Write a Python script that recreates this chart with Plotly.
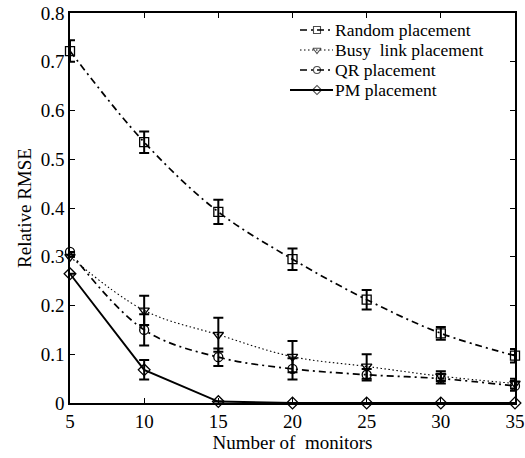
import plotly.graph_objects as go

x = [5, 10, 15, 20, 25, 30, 35]
random_y = [0.722, 0.535, 0.392, 0.295, 0.212, 0.143, 0.097]
random_err = [0.022, 0.022, 0.025, 0.022, 0.020, 0.013, 0.014]
busy_y = [0.300, 0.190, 0.140, 0.095, 0.075, 0.055, 0.040]
busy_err = [0.000, 0.030, 0.035, 0.032, 0.025, 0.010, 0.010]
qr_y = [0.310, 0.150, 0.094, 0.070, 0.058, 0.050, 0.035]
qr_err = [0.000, 0.032, 0.018, 0.022, 0.012, 0.010, 0.010]
pm_y = [0.265, 0.068, 0.003, 0.0, 0.0, 0.0, 0.0]
pm_err = [0.000, 0.020, 0.000, 0.000, 0.000, 0.000, 0.000]
names = ["Random placement", "Busy\u00a0 link placement", "QR placement", "PM placement"]
x_title = "Number of\u00a0 monitors"
y_title = "Relative RMSE"
y_ticks = [0, 0.1, 0.2, 0.3, 0.4, 0.5, 0.6, 0.7, 0.8]
y_ticktext = ["0", "0.1", "0.2", "0.3", "0.4", "0.5", "0.6", "0.7", "0.8"]

FONT = "Liberation Serif, Times New Roman, serif"

styles = [
    dict(sym="square-open", dash="7px,4px,2px,4px", width=1.7, shape="spline"),
    dict(sym="triangle-down-open", dash="1.5px,2.5px", width=1.1, shape="spline"),
    dict(sym="circle-open", dash="7px,4px,2px,4px", width=1.7, shape="spline"),
    dict(sym="diamond-open", dash="solid", width=1.9, shape="linear"),
]

fig = go.Figure()
for name, ys, es, st in zip(names, [random_y, busy_y, qr_y, pm_y],
                            [random_err, busy_err, qr_err, pm_err], styles):
    fig.add_trace(go.Scatter(
        x=x, y=ys, name=name, mode="lines+markers", showlegend=False,
        line=dict(color="black", width=st["width"], dash=st["dash"], shape=st["shape"]),
        marker=dict(symbol=st["sym"], size=9, color="black", line=dict(width=1.3, color="black")),
        error_y=dict(type="data", array=es, visible=True, color="black", thickness=2, width=5),
        cliponaxis=False,
    ))

# manual legend (pixel-like overlay axes) for compact row spacing
leg_x0, leg_xm, leg_x1, leg_text_x = 300, 317, 333, 333
leg_rows = [30, 50, 70, 90]
for i, (name, st) in enumerate(zip(names, styles)):
    yy = leg_rows[i]
    fig.add_trace(go.Scatter(
        x=[leg_x0 - (10 if st["dash"] == "solid" else 0), leg_xm, leg_x1], y=[yy, yy, yy],
        xaxis="x2", yaxis="y2", mode="lines+markers", showlegend=False, hoverinfo="skip",
        line=dict(color="black", width=st["width"], dash=st["dash"]),
        marker=dict(symbol=st["sym"], size=[0, 7, 0], color="black",
                    line=dict(width=1.1, color="black")),
        cliponaxis=False,
    ))
    fig.add_annotation(x=leg_text_x, y=yy, xref="x2", yref="y2", text=name,
                       showarrow=False, xanchor="left", yanchor="middle",
                       font=dict(family=FONT, size=17.5, color="black"))

axis_common = dict(showline=True, linecolor="black", linewidth=1.5, mirror="ticks",
                   ticks="inside", ticklen=5, tickwidth=1, tickcolor="black",
                   showgrid=False, zeroline=False, tickfont=dict(size=19),
                   automargin=False)

fig.update_layout(
    width=525, height=458,
    margin=dict(l=70, r=10, t=13, b=55),
    plot_bgcolor="white", paper_bgcolor="white",
    font=dict(family=FONT, size=19, color="black"),
    showlegend=False,
    xaxis=dict(title=dict(text=x_title, font=dict(size=19), standoff=4),
               range=[5, 35], tickvals=x, **axis_common),
    yaxis=dict(title=dict(text=y_title, font=dict(size=19), standoff=4),
               range=[0, 0.8], tickvals=y_ticks, ticktext=y_ticktext, **axis_common),
    xaxis2=dict(overlaying="x", range=[70, 515], visible=False, anchor="y2", automargin=False),
    yaxis2=dict(overlaying="y", range=[403, 13], visible=False, anchor="x2", automargin=False),
)

fig.write_html("out.html")
